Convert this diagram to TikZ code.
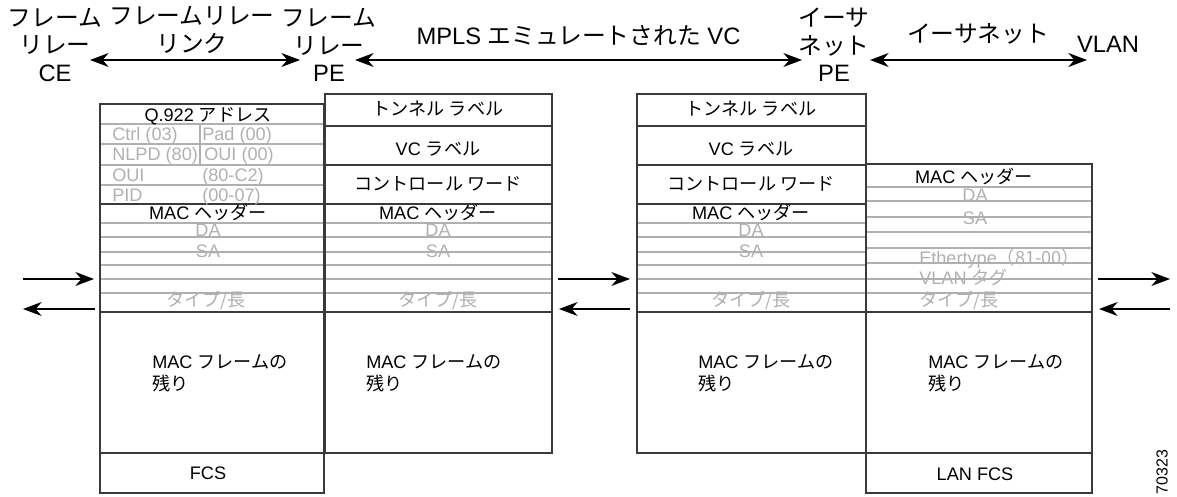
\documentclass[tikz,border=0pt]{standalone}
\usepackage{fontspec}
\setmainfont{Liberation Sans}
\newfontfamily\jp{Noto Sans CJK JP}
\usetikzlibrary{arrows.meta}
\definecolor{lg}{HTML}{B0B0B0}
\definecolor{dk}{HTML}{3A3A3A}
\newcommand{\J}[1]{{\jp #1}}
\begin{document}
\begin{tikzpicture}[x=0.75pt,y=-0.75pt,
  box/.style={draw=dk,line width=0.9pt},
  thinrule/.style={draw=lg,line width=0.8pt},
  seprule/.style={draw=dk,line width=1.3pt},
  hdr/.style={font=\fontsize{17.8}{20.5}\selectfont,align=center,inner sep=0pt},
  txt/.style={font=\fontsize{13.6}{16.5}\selectfont,inner sep=0pt},
  gtxt/.style={txt,text=lg},
  tip/.tip={Stealth[length=14pt,width=10.5pt,inset=4.5pt]},
  arr/.style={line width=0.9pt,-tip},
  darr/.style={line width=0.9pt,tip-tip},
]
\useasboundingbox (0,0) rectangle (1177,496);

% ---------- column 1: frame relay ----------
\foreach \y in {124,144,165,185,223,237,252,265,279,293}
  \draw[thinrule] (100,\y) -- (324,\y);
\draw[thinrule] (200,124) -- (200,165);
\foreach \y in {204,312,453}
  \draw[seprule] (100,\y) -- (324,\y);
\draw[box] (100,104) rectangle (324,493);

% ---------- columns 2 and 3: MPLS ----------
\foreach \xa/\xb in {325/552,637/866}{
  \foreach \y in {223,237,252,265,279,293}
    \draw[thinrule] (\xa,\y) -- (\xb,\y);
  \foreach \y in {126,165,204,312}
    \draw[seprule] (\xa,\y) -- (\xb,\y);
  \draw[box] (\xa,94) rectangle (\xb,453);
}

% ---------- column 4: Ethernet VLAN ----------
\foreach \y in {187,201,217,232,248,263,279,293}
  \draw[thinrule] (866,\y) -- (1092,\y);
\foreach \y in {312,453}
  \draw[seprule] (866,\y) -- (1092,\y);
\draw[box] (866,164) rectangle (1092,493);

% ---------- header texts ----------
\node[hdr] (hce)  at (55,45)     {\J{フレーム}\\\J{リレー}\\CE};
\node[hdr] (hfrl) at (192,30)    {\J{フレームリレー}\\\J{リンク}};
\node[hdr] (hpe1) at (329,45)    {\J{フレーム}\\\J{リレー}\\PE};
\node[hdr] (hvc)  at (578.5,35.5){MPLS \J{エミュレートされた} VC};
\node[hdr] (hpe2) at (834,45)    {\J{イーサ}\\\J{ネット}\\PE};
\node[hdr] (heth) at (978,34)    {\J{イーサネット}};
\node[hdr] (hvl)  at (1108,44)   {VLAN};

\coordinate (a1l) at (90,60);   \coordinate (a1r) at (300,60);
\coordinate (a2l) at (355,60);  \coordinate (a2r) at (802,60);
\coordinate (a3l) at (870,60);  \coordinate (a3r) at (1087,60);
\draw[darr] (a1l) -- (a1r);
\draw[darr] (a2l) -- (a2r);
\draw[darr] (a3l) -- (a3r);

% ---------- side arrows ----------
\coordinate (s1a) at (23,279);   \coordinate (s1b) at (94,279);
\coordinate (s1c) at (95,309);   \coordinate (s1d) at (23,309);
\coordinate (s2a) at (558,279);  \coordinate (s2b) at (630,279);
\coordinate (s2c) at (630,309);  \coordinate (s2d) at (559,309);
\coordinate (s3a) at (1098,279); \coordinate (s3b) at (1170,279);
\coordinate (s3c) at (1170,309); \coordinate (s3d) at (1099,309);
\draw[arr] (s1a) -- (s1b);  \draw[arr] (s1c) -- (s1d);
\draw[arr] (s2a) -- (s2b);  \draw[arr] (s2c) -- (s2d);
\draw[arr] (s3a) -- (s3b);  \draw[arr] (s3c) -- (s3d);

% ---------- column 1 texts ----------
\node[txt,anchor=base] (c1q) at (208,121) {Q.922 \J{アドレス}};
\node[gtxt,anchor=base west] (c1a) at (112,140) {Ctrl (03)};
\node[gtxt,anchor=base west] (c1b) at (202,140) {Pad (00)};
\node[gtxt,anchor=base west] (c1c) at (112,160.5) {NLPD (80)};
\node[gtxt,anchor=base west] (c1d) at (204,160.5) {OUI (00)};
\node[gtxt,anchor=base west] (c1e) at (112,181) {OUI};
\node[gtxt,anchor=base west] (c1f) at (202,181) {(80-C2)};
\node[gtxt,anchor=base west] (c1g) at (112,201.5) {PID};
\node[gtxt,anchor=base west] (c1h) at (202,201.5) {(00-07)};
\node[txt,anchor=base] (c1m) at (208,219) {MAC \J{ヘッダー}};
\node[gtxt,anchor=base] (c1da) at (208,236.5) {DA};
\node[gtxt,anchor=base] (c1sa) at (208,257) {SA};
\node[gtxt,anchor=base] (c1t) at (206,306) {\J{タイプ/長}};
\node[txt,anchor=west,align=left] (c1r) at (152,373) {MAC \J{フレームの}\\\J{残り}};
\node[txt,anchor=base] (c1fcs) at (208,479) {FCS};

% ---------- columns 2 and 3 texts ----------
\foreach \cx/\lx/\n in {438/366/c2,751/698/c3}{
  \node[txt,anchor=base] (\n tl) at (\cx,115) {\J{トンネル ラベル}};
  \node[txt,anchor=base] (\n vc) at (\cx,155) {VC \J{ラベル}};
  \node[txt,anchor=base] (\n cw) at (\cx,190) {\J{コントロール ワード}};
  \node[txt,anchor=base] (\n m) at (\cx,219) {MAC \J{ヘッダー}};
  \node[gtxt,anchor=base] (\n da) at (\cx,236.5) {DA};
  \node[gtxt,anchor=base] (\n sa) at (\cx,257) {SA};
  \node[gtxt,anchor=base] (\n t) at (\cx,306) {\J{タイプ/長}};
  \node[txt,anchor=west,align=left] (\n r) at (\lx,373) {MAC \J{フレームの}\\\J{残り}};
}

% ---------- column 4 texts ----------
\node[txt,anchor=base] (c4m) at (974,183) {MAC \J{ヘッダー}};
\node[gtxt,anchor=base] (c4da) at (975,201) {DA};
\node[gtxt,anchor=base] (c4sa) at (975,224) {SA};
\node[gtxt,anchor=base west] (c4e) at (919,264) {Ethertype\J{（81-00）}};
\node[gtxt,anchor=base west] (c4v) at (919,284) {VLAN \J{タグ}};
\node[gtxt,anchor=base west] (c4t) at (919,306) {\J{タイプ/長}};
\node[txt,anchor=west,align=left] (c4r) at (928,373) {MAC \J{フレームの}\\\J{残り}};
\node[txt,anchor=base] (c4f) at (975,480) {LAN FCS};

\node[font=\fontsize{12}{14}\selectfont,rotate=90,inner sep=0pt] (fig) at (1162,472) {70323};
\end{tikzpicture}
\end{document}
